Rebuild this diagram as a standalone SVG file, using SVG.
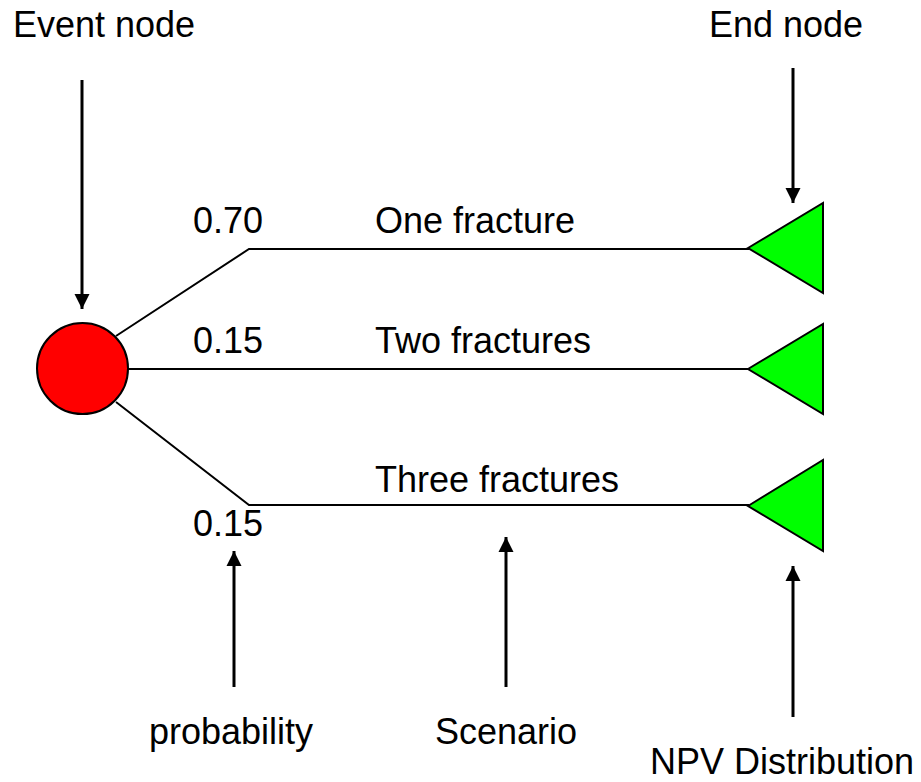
<svg xmlns="http://www.w3.org/2000/svg" width="921" height="782" viewBox="0 0 921 782">
  <style>
    text { font-family: "Liberation Sans", Arial, sans-serif; font-size: 36px; fill: #000; }
    .branch { fill: none; stroke: #000; stroke-width: 2; }
    .pointer { fill: none; stroke: #000; stroke-width: 3; marker-end: url(#head); }
    .chance { fill: #ff0000; stroke: #000; stroke-width: 2; }
    .terminal { fill: #00ff00; stroke: #000; stroke-width: 2; stroke-linejoin: miter; }
  </style>
  <defs>
    <marker id="head" markerUnits="userSpaceOnUse" markerWidth="16" markerHeight="16" viewBox="0 0 16 16" refX="15" refY="8" orient="auto">
      <path d="M0,0.5 L15,8 L0,15.5 Z" fill="#000"/>
    </marker>
  </defs>

  <rect width="921" height="782" fill="#fff"/>

  <!-- tree branches -->
  <g id="connectors">
    <polyline class="branch" points="116,336 249,249 749,249"/>
    <line class="branch" x1="128" y1="369" x2="749" y2="369"/>
    <polyline class="branch" points="116,402 249,505 749,505"/>

    <!-- callout arrows -->
    <line class="pointer" x1="82" y1="80" x2="82" y2="309"/>
    <line class="pointer" x1="793" y1="68" x2="793" y2="203"/>
    <line class="pointer" x1="234" y1="687" x2="234" y2="551"/>
    <line class="pointer" x1="506" y1="687" x2="506" y2="537"/>
    <line class="pointer" x1="793" y1="717" x2="793" y2="566"/>
  </g>

  <!-- chance node -->
  <g id="event-node">
    <circle class="chance" cx="82.5" cy="368.5" r="45.5"/>
  </g>

  <!-- terminal nodes -->
  <g id="end-one">
    <polygon class="terminal" points="748,248 823,203 823,293"/>
  </g>
  <g id="end-two">
    <polygon class="terminal" points="748,369 823,324 823,414"/>
  </g>
  <g id="end-three">
    <polygon class="terminal" points="748,506 823,460 823,551"/>
  </g>

  <!-- branch labels -->
  <g id="branch-labels">
    <text x="193" y="233">0.70</text>
    <text x="375" y="233">One fracture</text>
    <text x="193" y="353">0.15</text>
    <text x="375" y="353">Two fractures</text>
    <text x="375" y="492">Three fractures</text>
    <text x="193" y="536">0.15</text>
  </g>

  <!-- callout labels -->
  <g id="callout-labels">
    <text x="13" y="37">Event node</text>
    <text x="709" y="37">End node</text>
    <text x="149" y="744">probability</text>
    <text x="435" y="744">Scenario</text>
    <text x="650" y="774">NPV Distribution</text>
  </g>
</svg>
